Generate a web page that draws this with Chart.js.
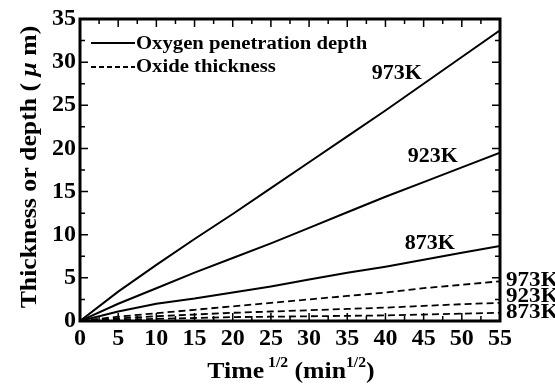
<!DOCTYPE html>
<html>
<head>
<meta charset="utf-8">
<script src="https://cdn.jsdelivr.net/npm/chart.js@4.4.1/dist/chart.umd.min.js"></script>
<style>
  html, body { margin: 0; padding: 0; background: #fff; }
  canvas { display: block; }
</style>
</head>
<body>
<canvas id="chart" width="555" height="387"></canvas>
<script>
// sqrt(time) in min^1/2
const timeRoot = [0, 5, 10, 15, 20, 25, 30, 35, 40, 45, 50, 55];

// oxygen penetration depth (um)
const pen973 = [0, 3.4, 6.5, 9.5, 12.4, 15.4, 18.4, 21.4, 24.4, 27.5, 30.6, 33.7];
const pen923 = [0, 2.0, 3.8, 5.6, 7.3, 9.0, 10.8, 12.6, 14.4, 16.1, 17.8, 19.5];
const pen873 = [0, 1.1, 2.0, 2.6, 3.3, 4.0, 4.8, 5.6, 6.3, 7.1, 7.9, 8.7];

// oxide thickness (um)
const oxi973 = [0, 0.5, 0.9, 1.3, 1.7, 2.1, 2.5, 2.9, 3.3, 3.8, 4.2, 4.6];
const oxi923 = [0, 0.3, 0.55, 0.75, 0.95, 1.1, 1.25, 1.4, 1.55, 1.75, 1.95, 2.1];
const oxi873 = [0, 0.15, 0.25, 0.35, 0.45, 0.5, 0.55, 0.6, 0.65, 0.75, 0.85, 0.95];

const SERIF = '"Liberation Serif", "Times New Roman", serif';

function pts(ys) {
    return timeRoot.map((x, i) => ({ x: x, y: ys[i] }));
}

function line(ys, dashed) {
    return {
        data: pts(ys),
        borderColor: "#000",
        borderWidth: dashed ? 1.8 : 2,
        borderDash: dashed ? [7, 4] : [],
        pointRadius: 0,
        tension: 0,
        fill: false
    };
}

// draws a row of text pieces, stretched a bit horizontally like the original
function drawRuns(ctx, runs, x, y, stretch) {
    ctx.save();
    ctx.translate(x, y);
    ctx.scale(stretch, 1);
    let total = 0;
    runs.forEach(r => {
        ctx.font = r.font;
        total += ctx.measureText(r.text).width;
    });
    let cx = -total / 2;
    runs.forEach(r => {
        ctx.font = r.font;
        ctx.fillText(r.text, cx, r.dy || 0);
        cx += ctx.measureText(r.text).width;
    });
    ctx.restore();
}

function drawText(ctx, text, x, y, size, align, stretch) {
    ctx.save();
    ctx.translate(x, y);
    ctx.scale(stretch, 1);
    ctx.font = `bold ${size}px ${SERIF}`;
    ctx.textAlign = align;
    ctx.fillText(text, 0, 0);
    ctx.restore();
}

const decorPlugin = {
    id: "decor",
    afterDraw(chart) {
        const ctx = chart.ctx;
        const a = chart.chartArea;
        const xs = chart.scales.x;
        const ys = chart.scales.y;

        ctx.save();
        ctx.strokeStyle = "#000";
        ctx.fillStyle = "#000";

        // inward ticks on all four sides
        ctx.lineWidth = 1.5;
        ctx.beginPath();
        for (let v = 0; v <= 55; v += 2.5) {
            const px = xs.getPixelForValue(v);
            const len = v % 5 === 0 ? 8 : 5;
            ctx.moveTo(px, a.bottom); ctx.lineTo(px, a.bottom - len);
            ctx.moveTo(px, a.top); ctx.lineTo(px, a.top + len);
        }
        for (let v = 0; v <= 35; v += 2.5) {
            const py = ys.getPixelForValue(v);
            const len = v % 5 === 0 ? 8 : 5;
            ctx.moveTo(a.left, py); ctx.lineTo(a.left + len, py);
            ctx.moveTo(a.right, py); ctx.lineTo(a.right - len, py);
        }
        ctx.stroke();

        // frame
        ctx.lineWidth = 3;
        ctx.strokeRect(a.left, a.top, a.right - a.left, a.bottom - a.top);

        // legend
        ctx.lineWidth = 2;
        ctx.beginPath();
        ctx.moveTo(91, 43); ctx.lineTo(135, 43);
        ctx.stroke();
        ctx.setLineDash([5, 3]);
        ctx.lineWidth = 1.8;
        ctx.beginPath();
        ctx.moveTo(91, 67); ctx.lineTo(135, 67);
        ctx.stroke();
        ctx.setLineDash([]);
        ctx.textBaseline = "middle";
        drawText(ctx, "Oxygen penetration depth", 136, 44, 18, "left", 1.15);
        drawText(ctx, "Oxide thickness", 136, 67, 18, "left", 1.15);

        // curve labels
        drawText(ctx, "973K", xs.getPixelForValue(41.5), ys.getPixelForValue(28.7), 20, "center", 1.1);
        drawText(ctx, "923K", xs.getPixelForValue(46.2), ys.getPixelForValue(19.0), 20, "center", 1.1);
        drawText(ctx, "873K", xs.getPixelForValue(45.8), ys.getPixelForValue(9.0), 20, "center", 1.1);
        drawText(ctx, "973K", a.right + 6, 281, 21, "left", 1.1);
        drawText(ctx, "923K", a.right + 6, 297, 21, "left", 1.1);
        drawText(ctx, "873K", a.right + 6, 313, 21, "left", 1.1);

        // x title
        ctx.textBaseline = "alphabetic";
        const big = `bold 23px ${SERIF}`;
        const sup = `bold 14px ${SERIF}`;
        drawRuns(ctx, [
            { text: "Time", font: big },
            { text: " 1/2", font: sup, dy: -11 },
            { text: " (min", font: big },
            { text: "1/2", font: sup, dy: -11 },
            { text: ")", font: big }
        ], 291, 378, 1.12);

        // y title
        ctx.save();
        ctx.translate(36, 167);
        ctx.rotate(-Math.PI / 2);
        drawRuns(ctx, [
            { text: "Thickness or depth ( ", font: big },
            { text: "\u03bc", font: `italic bold 23px ${SERIF}` },
            { text: " m)", font: big }
        ], 0, 0, 1.12);
        ctx.restore();

        ctx.restore();
    }
};

const tickFont = { family: SERIF, size: 24, weight: "bold" };

new Chart(document.getElementById("chart"), {
    type: "line",
    data: {
        datasets: [
            line(pen973, false),
            line(pen923, false),
            line(pen873, false),
            line(oxi973, true),
            line(oxi923, true),
            line(oxi873, true)
        ]
    },
    options: {
        responsive: false,
        animation: false,
        devicePixelRatio: 1,
        layout: { padding: { top: 19, right: 55, left: 0, bottom: 0 } },
        plugins: {
            legend: { display: false },
            tooltip: { enabled: false }
        },
        scales: {
            x: {
                type: "linear",
                min: 0,
                max: 55,
                ticks: { stepSize: 5, font: tickFont, color: "#000", padding: 3, maxRotation: 0, autoSkip: false },
                grid: { display: false, drawTicks: false },
                border: { display: false },
                afterFit: s => { s.height = 66; }
            },
            y: {
                min: 0,
                max: 35,
                ticks: { stepSize: 5, font: tickFont, color: "#000", padding: 4 },
                grid: { display: false, drawTicks: false },
                border: { display: false },
                afterFit: s => { s.width = 80; }
            }
        }
    },
    plugins: [decorPlugin]
});
</script>
</body>
</html>
